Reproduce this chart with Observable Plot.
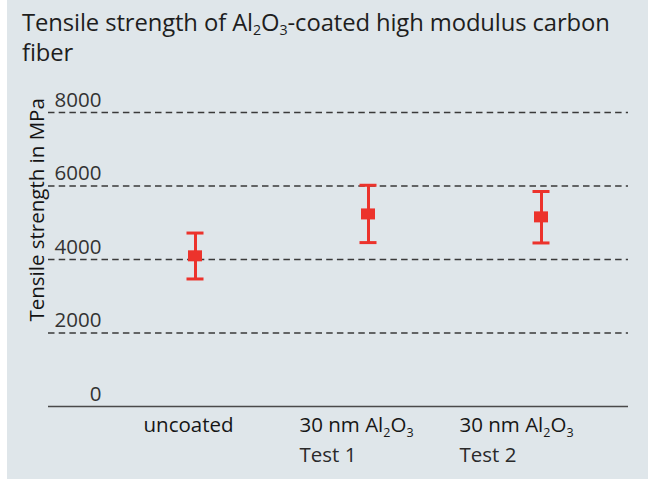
<!DOCTYPE html>
<html>
<head>
<meta charset="utf-8">
<script src="https://cdn.jsdelivr.net/npm/d3@7"></script>
<script src="https://cdn.jsdelivr.net/npm/@observablehq/plot@0.6"></script>
<style>
  html, body { margin: 0; padding: 0; background: #ffffff; }
  #wrap { position: absolute; left: 7px; top: 0; width: 641px; height: 479px; background: #dfe6ea; overflow: hidden; }
  #title { position: absolute; left: 15px; top: 7px; font-family: "Open Sans", sans-serif; font-size: 23.8px; line-height: 30px; color: #1e1e1e; white-space: nowrap; letter-spacing: -0.1px; }
  #title sub { font-size: 0.6em; vertical-align: -0.3em; line-height: 0; }
  #chart { position: absolute; left: 0; top: 75px; }
</style>
</head>
<body>
<div id="wrap">
  <div id="title">Tensile strength of Al<sub>2</sub>O<sub>3</sub>-coated high modulus carbon<br>fiber</div>
  <div id="chart"></div>
</div>
<script>
// ---- data ----
const categories = ["uncoated", "Test 1", "Test 2"];
const labelLine1 = ["uncoated", "30 nm Al2O3", "30 nm Al2O3"];
const labelLine2 = ["", "Test 1", "Test 2"];
const meanValues = [4100, 5240, 5160];
const lowValues  = [3470, 4460, 4450];
const highValues = [4720, 6020, 5850];
const yTicks = [0, 2000, 4000, 6000, 8000];
const gridTicks = [2000, 4000, 6000, 8000];
const yLabel = "Tensile strength in MPa";

const rows = categories.map((c, i) => ({cat: c, mean: meanValues[i], low: lowValues[i], high: highValues[i]}));

const red = "#ec332c";
const labelDx = [-52, -69, -82];

const labelMarks = [];
categories.forEach((c, i) => {
  labelMarks.push(Plot.text([c], {x: d => d, frameAnchor: "bottom", text: () => labelLine1[i], textAnchor: "start", lineAnchor: "bottom", dx: labelDx[i], dy: 25, fill: "#161616", fontWeight: 500}));
  if (labelLine2[i]) labelMarks.push(Plot.text([c], {x: d => d, frameAnchor: "bottom", text: () => labelLine2[i], textAnchor: "start", lineAnchor: "bottom", dx: labelDx[i], dy: 55, fill: "#2a2a2a"}));
});

const chart = Plot.plot({
  width: 641,
  height: 404,
  marginLeft: 41,
  marginRight: 20,
  marginTop: 37,
  marginBottom: 73,
  style: {background: "transparent", fontFamily: "Open Sans, sans-serif", fontSize: "20.5px", color: "#333", overflow: "visible"},
  x: {type: "band", domain: categories, range: [179.5, 542.5], paddingInner: 0.9017, paddingOuter: 0, align: 0.5, round: false, axis: null},
  y: {domain: [0, 8000], axis: null},
  marks: [
    Plot.ruleY(gridTicks, {stroke: "#3a3a3a", strokeWidth: 1.3, strokeDasharray: "6.5,4.2"}),
    Plot.ruleY([0], {stroke: "#4a4a4a", strokeWidth: 1.6}),
    Plot.text(yTicks, {y: d => d, frameAnchor: "left", text: d => String(d), textAnchor: "end", lineAnchor: "bottom", dx: 53, dy: -6, fill: "#333"}),
    Plot.text([5350], {y: d => d, frameAnchor: "left", text: () => yLabel, rotate: -90, textAnchor: "middle", lineAnchor: "middle", dx: -11, fill: "#141414", fontWeight: 500}),
    Plot.ruleX(rows, {x: "cat", y1: "low", y2: "high", stroke: red, strokeWidth: 3}),
    Plot.tickY(rows, {x: "cat", y: "low", stroke: red, strokeWidth: 3}),
    Plot.tickY(rows, {x: "cat", y: "high", stroke: red, strokeWidth: 3}),
    Plot.tickY(rows, {x: "cat", y: "mean", stroke: red, strokeWidth: 11, insetLeft: 1.5, insetRight: 1.5}),
    ...labelMarks
  ]
});

// subscripts for Al2O3
d3.select(chart).selectAll("text").each(function() {
  const t = this.textContent;
  if (t.includes("Al2O3")) {
    const el = d3.select(this);
    const pre = t.split("Al2O3")[0];
    el.text(null);
    el.append("tspan").text(pre + "Al");
    el.append("tspan").attr("dy", 5).attr("font-size", "12.5px").text("2");
    el.append("tspan").attr("dy", -5).text("O");
    el.append("tspan").attr("dy", 5).attr("font-size", "12.5px").text("3");
  }
});

document.getElementById("chart").appendChild(chart);
</script>
</body>
</html>
